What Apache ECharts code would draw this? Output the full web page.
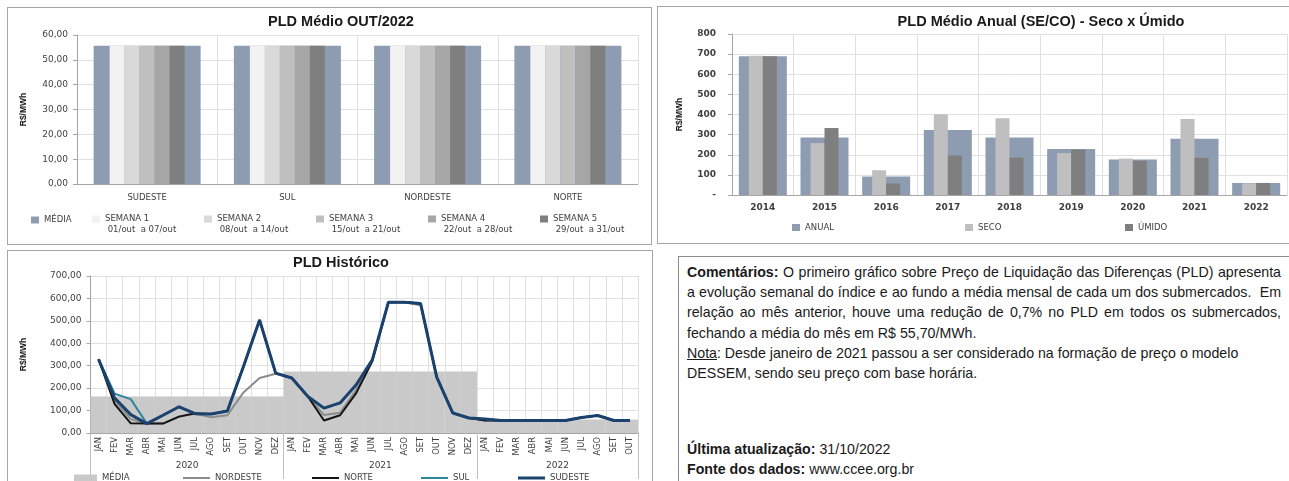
<!DOCTYPE html>
<html>
<head>
<meta charset="utf-8">
<script src="https://cdn.jsdelivr.net/npm/echarts@6.0.0/dist/echarts.min.js"></script>
<style>
  body { margin: 0; width: 1289px; height: 481px; overflow: hidden; background: #fff; position: relative; }
  .box { position: absolute; border: 1px solid #a6a6a6; box-sizing: border-box; }
  .chart { position: absolute; }
  .texto { position: absolute; left: 687px; top: 262px; width: 594px; font-family: "Liberation Sans", Arial, sans-serif; font-size: 14.2px; line-height: 20.2px; color: #1a1a1a; }
  .texto .j { text-align: justify; text-align-last: justify; white-space: nowrap; }
  .texto b { font-weight: bold; }
  .rodape { position: absolute; left: 687px; top: 439px; font-family: "Liberation Sans", Arial, sans-serif; font-size: 14.2px; line-height: 20px; color: #1a1a1a; }
</style>
</head>
<body>
<div class="box" style="left:7px;top:7px;width:645px;height:238px"></div>
<div class="box" style="left:657px;top:6px;width:640px;height:238px"></div>
<div class="box" style="left:7px;top:250px;width:646px;height:240px"></div>
<div class="box" style="left:678px;top:256px;width:620px;height:240px;border-color:#8c8c8c"></div>

<div id="c1" class="chart" style="left:0;top:0;width:655px;height:245px"></div>
<div id="c2" class="chart" style="left:655px;top:0;width:634px;height:245px"></div>
<div id="c3" class="chart" style="left:0;top:245px;width:655px;height:236px"></div>

<div class="texto">
  <div class="j"><b>Comentários:</b> O primeiro gráfico sobre Preço de Liquidação das Diferenças (PLD) apresenta</div>
  <div class="j">a evolução semanal do índice e ao fundo a média mensal de cada um dos submercados.&nbsp; Em</div>
  <div class="j">relação ao mês anterior, houve uma redução de 0,7% no PLD em todos os submercados,</div>
  <div>fechando a média do mês em R$ 55,70/MWh.</div>
  <div><u>Nota</u>: Desde janeiro de 2021 passou a ser considerado na formação de preço o modelo</div>
  <div>DESSEM, sendo seu preço com base horária.</div>
</div>
<div class="rodape">
  <div><b>Última atualização:</b> 31/10/2022</div>
  <div><b>Fonte dos dados:</b> www.ccee.org.br</div>
</div>

<script>
// ---- dados: PLD médio out/2022 por submercado
const regioes = ['SUDESTE', 'SUL', 'NORDESTE', 'NORTE']
const mediaOut = [55.70, 55.70, 55.70, 55.70]
const semana1 = [55.70, 55.70, 55.70, 55.70]
const semana2 = [55.70, 55.70, 55.70, 55.70]
const semana3 = [55.70, 55.70, 55.70, 55.70]
const semana4 = [55.70, 55.70, 55.70, 55.70]
const semana5 = [55.70, 55.70, 55.70, 55.70]
const semanaNomes = ['SEMANA 1', 'SEMANA 2', 'SEMANA 3', 'SEMANA 4', 'SEMANA 5']
const semanaDatas = ['01/out  a 07/out', '08/out  a 14/out', '15/out  a 21/out', '22/out  a 28/out', '29/out  a 31/out']

// ---- dados: PLD médio anual SE/CO
const anos = ['2014', '2015', '2016', '2017', '2018', '2019', '2020', '2021', '2022']
const anual = [689, 286, 92, 323, 286, 228, 176, 280, 60]
const seco = [692, 258, 123, 401, 381, 208, 181, 378, 58]
const umido = [689, 333, 57, 196, 186, 226, 170, 185, 60]

// ---- dados: PLD histórico mensal
const meses = ['JAN', 'FEV', 'MAR', 'ABR', 'MAI', 'JUN', 'JUL', 'AGO', 'SET', 'OUT', 'NOV', 'DEZ']
const anosHist = ['2020', '2021', '2022']
const mesesPorAno = [12, 12, 10]
const mediaHist = [163, 163, 163, 163, 163, 163, 163, 163, 163, 163, 163, 163,
  274, 274, 274, 274, 274, 274, 274, 274, 274, 274, 274, 274,
  60, 60, 60, 60, 60, 60, 60, 60, 60, 60]
const nordeste = [329, 145, 62, 42, 42, 74, 86, 70, 79, 181, 245, 264,
  245, 163, 80, 90, 193, 325, 583, 583, 570, 249, 89, 67,
  56, 55.7, 55.7, 55.7, 55.7, 55.7, 69, 78, 55.7, 55.7]
const norte = [329, 129, 43, 42, 42, 73, 88, 85, 98, 297, 504, 267,
  245, 163, 56, 79, 178, 320, 583, 583, 577, 249, 89, 67,
  56, 55.7, 55.7, 55.7, 55.7, 55.7, 69, 78, 55.7, 55.7]
const sul = [329, 175, 151, 42, 79, 117, 86, 85, 98, 297, 504, 267,
  245, 163, 111, 134, 215, 326, 583, 583, 577, 249, 89, 67,
  62, 55.7, 55.7, 55.7, 55.7, 55.7, 69, 78, 55.7, 55.7]
const sudeste = [329, 156, 82, 42, 79, 117, 86, 85, 98, 297, 504, 267,
  245, 163, 111, 134, 215, 326, 583, 583, 577, 249, 89, 67,
  62, 55.7, 55.7, 55.7, 55.7, 55.7, 69, 78, 55.7, 55.7]

const FONTE = 'DejaVu Sans'
const TITULO = 'Liberation Sans'
const COR_TXT = '#404040'
const COR_GRADE = '#e0e0e0'
const COR_EIXO = '#a6a6a6'

const virgula = v => v.toFixed(2).replace('.', ',')

// legenda de um item só, para poder posicionar cada um
function legenda(nome, left, top, opts) {
  return Object.assign({
    data: [nome], left: left, top: top, padding: 0,
    itemWidth: 8, itemHeight: 7, icon: 'rect', itemGap: 0,
    selectedMode: false,
    textStyle: { fontFamily: FONTE, fontSize: 8.5, color: COR_TXT, lineHeight: 11 }
  }, opts || {})
}

// ---------------- grafico 1
const chart1 = echarts.init(document.getElementById('c1'))
const coresSemana = ['#f2f2f2', '#d9d9d9', '#bfbfbf', '#a6a6a6', '#7f7f7f']
const dadosSemana = [semana1, semana2, semana3, semana4, semana5]
const legendas1 = [legenda('MÉDIA', 31, 214.5)]
const posSemana = [92, 204, 316, 428, 540]
semanaNomes.forEach((n, i) => {
  legendas1.push(legenda(n, posSemana[i], 203.5, {
    formatter: () => '{e| }\n{a|' + n + '}\n{b| ' + semanaDatas[i] + '}',
    textStyle: {
      fontFamily: FONTE, fontSize: 8.5, color: COR_TXT,
      rich: {
        e: { fontSize: 8.5, lineHeight: 11 },
        a: { fontFamily: FONTE, fontSize: 8.5, lineHeight: 11, color: COR_TXT },
        b: { fontFamily: FONTE, fontSize: 8.5, lineHeight: 11, color: COR_TXT }
      }
    }
  }))
})
chart1.setOption({
  animation: false,
  title: {
    text: 'PLD Médio OUT/2022', left: 336, top: 9, textAlign: 'center',
    textStyle: { fontFamily: TITULO, fontSize: 14.5, fontWeight: 'bold', color: '#1a1a1a' }
  },
  legend: legendas1,
  grid: { left: 77, right: 17, top: 35, bottom: 61 },
  xAxis: [{
    type: 'category', data: regioes,
    axisLine: { lineStyle: { color: COR_EIXO } },
    axisTick: { length: 5, lineStyle: { color: COR_EIXO } },
    axisLabel: { fontFamily: FONTE, fontSize: 8.5, color: COR_TXT, margin: 9 },
    splitLine: { show: true, lineStyle: { color: COR_GRADE } }
  }, {
    type: 'category', data: regioes, show: false
  }],
  yAxis: {
    type: 'value', min: 0, max: 60, interval: 10,
    name: 'R$/MWh', nameLocation: 'middle', nameGap: 49, nameRotate: 90,
    nameTextStyle: { fontFamily: TITULO, fontSize: 8.5, fontWeight: 'bold', color: '#1a1a1a' },
    axisLine: { show: true, lineStyle: { color: COR_EIXO } },
    axisTick: { show: true, length: 4, lineStyle: { color: COR_EIXO } },
    axisLabel: { fontFamily: FONTE, fontSize: 9, color: COR_TXT, formatter: virgula, margin: 9 },
    splitLine: { lineStyle: { color: COR_GRADE } }
  },
  series: [{
    name: 'MÉDIA', type: 'bar', xAxisIndex: 0, barWidth: 107, data: mediaOut,
    itemStyle: { color: '#8e9cb1' }
  }].concat(semanaNomes.map((n, i) => ({
    name: n, type: 'bar', xAxisIndex: 1, barWidth: 15, barGap: '0%', data: dadosSemana[i],
    itemStyle: { color: coresSemana[i] }
  })))
})

// ---------------- grafico 2
const chart2 = echarts.init(document.getElementById('c2'))
chart2.setOption({
  animation: false,
  title: {
    text: 'PLD Médio Anual (SE/CO) - Seco x Úmido', left: 381, top: 9, textAlign: 'center',
    textStyle: { fontFamily: TITULO, fontSize: 14.5, fontWeight: 'bold', color: '#1a1a1a' }
  },
  legend: [
    legenda('ANUAL', 137, 222),
    legenda('SECO', 310, 222),
    legenda('ÚMIDO', 470, 222)
  ],
  grid: { left: 77, right: 2, top: 34, bottom: 50 },
  xAxis: [{
    type: 'category', data: anos,
    axisLine: { lineStyle: { color: COR_EIXO } },
    axisTick: { length: 5, lineStyle: { color: COR_EIXO } },
    axisLabel: { fontFamily: FONTE, fontSize: 9, fontWeight: 'bold', color: COR_TXT, margin: 8 },
    splitLine: { show: true, lineStyle: { color: COR_GRADE } }
  }, {
    type: 'category', data: anos, show: false
  }],
  yAxis: {
    type: 'value', min: 0, max: 800, interval: 100,
    name: 'R$/MWh', nameLocation: 'middle', nameGap: 48, nameRotate: 90,
    nameTextStyle: { fontFamily: TITULO, fontSize: 8.5, fontWeight: 'bold', color: '#1a1a1a' },
    axisLine: { show: true, lineStyle: { color: COR_EIXO } },
    axisTick: { show: true, length: 4, lineStyle: { color: COR_EIXO } },
    axisLabel: { fontFamily: FONTE, fontSize: 9, fontWeight: 'bold', color: COR_TXT, margin: 16, formatter: v => v === 0 ? '-' : v },
    splitLine: { lineStyle: { color: COR_GRADE } }
  },
  series: [{
    name: 'ANUAL', type: 'bar', xAxisIndex: 0, barWidth: 48, data: anual,
    itemStyle: { color: '#8e9cb1' }
  }, {
    name: 'SECO', type: 'bar', xAxisIndex: 1, barWidth: 14, barGap: '0%', data: seco,
    itemStyle: { color: '#bfbfbf' }
  }, {
    name: 'ÚMIDO', type: 'bar', xAxisIndex: 1, barWidth: 14, barGap: '0%', data: umido,
    itemStyle: { color: '#7f7f7f' }
  }]
})

// ---------------- grafico 3
const chart3 = echarts.init(document.getElementById('c3'))
const mesesHist = []
anosHist.forEach((a, k) => {
  for (let i = 0; i < mesesPorAno[k]; i++) mesesHist.push(meses[i] + '/' + a)
})
const limitesAno = [0]
const meioAno = []
mesesPorAno.forEach(n => {
  const ini = limitesAno[limitesAno.length - 1]
  meioAno.push(ini + n / 2)
  limitesAno.push(ini + n)
})
const linhas = [
  { nome: 'NORDESTE', dados: nordeste, cor: '#8c8c8c', w: 2, left: 183 },
  { nome: 'NORTE', dados: norte, cor: '#141414', w: 2, left: 312 },
  { nome: 'SUL', dados: sul, cor: '#31859c', w: 2, left: 421 },
  { nome: 'SUDESTE', dados: sudeste, cor: '#1b426e', w: 3, left: 518 }
]
chart3.setOption({
  animation: false,
  title: {
    text: 'PLD Histórico', left: 336, top: 5, textAlign: 'center',
    textStyle: { fontFamily: TITULO, fontSize: 14.5, fontWeight: 'bold', color: '#1a1a1a' }
  },
  legend: [legenda('MÉDIA', 74, 227.5, { itemWidth: 23, itemHeight: 7 })].concat(linhas.map(l =>
    legenda(l.nome, l.left, 227.5, { icon: 'rect', itemWidth: 27, itemHeight: l.w })
  )),
  grid: { left: 90.5, right: 17, top: 31, bottom: 48 },
  xAxis: [{
    type: 'category', data: mesesHist,
    axisLine: { lineStyle: { color: COR_EIXO } },
    axisTick: { length: 27, lineStyle: { color: '#bfbfbf' } },
    axisLabel: { interval: 0, rotate: 90, fontFamily: FONTE, fontSize: 8.3, color: COR_TXT, margin: 4,
      formatter: v => v.split('/')[0] },
    splitLine: { show: true, interval: 0, lineStyle: { color: COR_GRADE } }
  }, {
    type: 'value', min: 0, max: limitesAno[limitesAno.length - 1], position: 'bottom',
    axisLine: { show: false },
    axisTick: { show: true, customValues: limitesAno, length: 46, lineStyle: { color: '#bfbfbf' } },
    axisLabel: { customValues: meioAno, margin: 28, fontFamily: FONTE, fontSize: 9, color: COR_TXT,
      formatter: v => anosHist[meioAno.indexOf(v)] || '' },
    splitLine: { show: false }
  }],
  yAxis: {
    type: 'value', min: 0, max: 700, interval: 100,
    name: 'R$/MWh', nameLocation: 'middle', nameGap: 62, nameRotate: 90,
    nameTextStyle: { fontFamily: TITULO, fontSize: 8.5, fontWeight: 'bold', color: '#1a1a1a' },
    axisLine: { show: true, lineStyle: { color: COR_EIXO } },
    axisTick: { show: true, length: 4, lineStyle: { color: COR_EIXO } },
    axisLabel: { fontFamily: FONTE, fontSize: 9, color: COR_TXT, formatter: virgula, margin: 9 },
    splitLine: { lineStyle: { color: COR_GRADE } }
  },
  series: [{
    name: 'MÉDIA', type: 'bar', xAxisIndex: 0, data: mediaHist, barCategoryGap: '0%',
    itemStyle: { color: '#c9c9c9' }
  }].concat(linhas.map(l => ({
    name: l.nome, type: 'line', xAxisIndex: 0, data: l.dados, symbol: 'none',
    lineStyle: { color: l.cor, width: l.w }, itemStyle: { color: l.cor }
  })))
})
</script>
</body>
</html>
